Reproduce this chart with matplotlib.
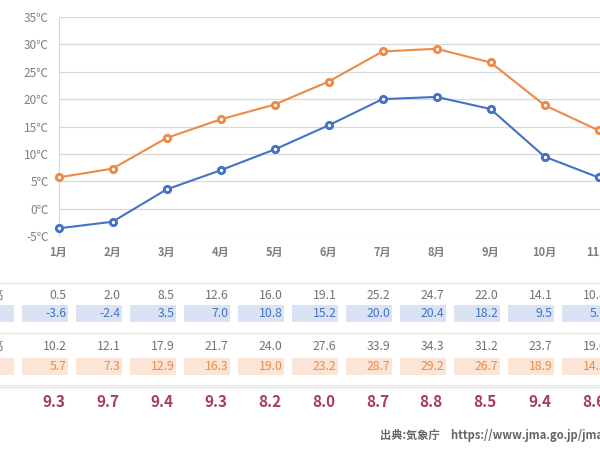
import matplotlib
matplotlib.use('Agg')
import matplotlib.pyplot as plt
import matplotlib.transforms as mtransforms
from matplotlib.patches import Rectangle

plt.rcParams['font.family'] = ['Noto Sans CJK JP', 'DejaVu Sans']

months = ['1月', '2月', '3月', '4月', '5月', '6月', '7月', '8月', '9月', '10月', '11月']
min_high = ['0.5', '2.0', '8.5', '12.6', '16.0', '19.1', '25.2', '24.7', '22.0', '14.1', '10.8']
avg_min = [-3.6, -2.4, 3.5, 7.0, 10.8, 15.2, 20.0, 20.4, 18.2, 9.5, 5.7]
max_high = ['10.2', '12.1', '17.9', '21.7', '24.0', '27.6', '33.9', '34.3', '31.2', '23.7', '19.6']
avg_max = [5.7, 7.3, 12.9, 16.3, 19.0, 23.2, 28.7, 29.2, 26.7, 18.9, 14.3]
diff = ['9.3', '9.7', '9.4', '9.3', '8.2', '8.0', '8.7', '8.8', '8.5', '9.4', '8.6']
yticks = [-5, 0, 5, 10, 15, 20, 25, 30, 35]

BLUE = '#4472C4'
ORANGE = '#EE8A45'
GRAY = '#7F7F7F'
GRID = '#D9D9D9'

W, H = 600, 450
fig = plt.figure(figsize=(6, 4.5), dpi=100)

# axes: 1月 at x=58.5px, 54px per month, -5 at y=236, 35 at y=17
x0, step = 58.5, 54.0
ax = fig.add_axes([x0 / W, 1 - 236 / H, 11 * step / W, (236 - 17) / H])
ax.set_xlim(0, 11)
ax.set_ylim(-5, 35)

x = list(range(len(months)))
ax.plot(x, avg_max, color=ORANGE, lw=1.5, marker='o', ms=4.5, mew=2.1,
        mfc='white', mec=ORANGE, clip_on=False, zorder=3)
ax.plot(x, avg_min, color=BLUE, lw=1.5, marker='o', ms=4.5, mew=2.1,
        mfc='white', mec=BLUE, clip_on=False, zorder=3)

ax.set_yticks(yticks)
ax.set_yticklabels([f'{v}℃' for v in yticks], color=GRAY, fontsize=8.5)
ax.set_xticks(x)
ax.set_xticklabels(months, color=GRAY, fontsize=8, fontweight='bold')
ax.tick_params(length=0, pad=7)
ax.grid(axis='y', color=GRID, lw=0.9)
for s in ['top', 'right', 'bottom']:
    ax.spines[s].set_visible(False)
ax.spines['left'].set_color(GRID)

# table below the chart
tr = mtransforms.blended_transform_factory(ax.transData, fig.transFigure)


def fy(py):
    return 1 - py / H


def row_text(values, py, color, size=8.8, weight='normal', dx=0.15):
    for i, v in enumerate(values):
        fig.text(i + dx, fy(py), v, transform=tr, ha='right', va='center',
                 color=color, fontsize=size, fontweight=weight)


def row_boxes(py_top, py_bot, face):
    for i in range(-1, len(months)):
        r = Rectangle((i - 0.685, fy(py_bot)), 0.87, fy(py_top) - fy(py_bot),
                      transform=tr, facecolor=face, edgecolor='none')
        fig.add_artist(r)


for py in [283, 333, 384.5, 387]:
    fig.add_artist(plt.Line2D([0, 1], [fy(py), fy(py)], transform=fig.transFigure,
                              color='#E6E6E6', lw=1))

row_boxes(305, 322, '#DAE3F3')
row_boxes(358, 374.5, '#FBE5D6')

row_text(min_high, 295.5, '#737373')
row_text(['%.1f' % v for v in avg_min], 313.5, BLUE)
row_text(max_high, 346.5, '#737373')
row_text(['%.1f' % v for v in avg_max], 366, ORANGE)
row_text(diff, 402, '#A83A62', size=11, weight='bold', dx=0.12)

fig.text(4 / W, fy(295.5), '最低気温の最高', ha='right', va='center', color='#737373', fontsize=8.8)
fig.text(4 / W, fy(346.5), '最高気温の最高', ha='right', va='center', color='#737373', fontsize=8.8)

fig.text(380 / W, fy(436), '出典:気象庁　https://www.jma.go.jp/jma/index.html',
         ha='left', va='center', color='#666666', fontsize=8.1, fontweight='bold')

fig.savefig('out.png', dpi=100)
